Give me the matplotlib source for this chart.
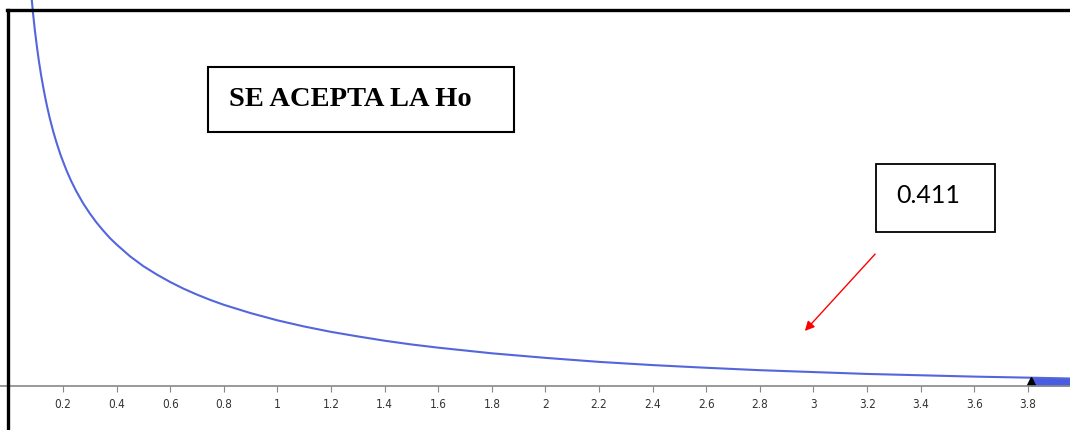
import matplotlib.pyplot as plt
from matplotlib.lines import Line2D
from matplotlib.patches import Rectangle

# Chi-square (1 df) density curve
curve_x = [0.080, 0.088, 0.095, 0.103, 0.110, 0.118, 0.125, 0.133, 0.140,
           0.150, 0.163, 0.175, 0.190, 0.200, 0.215, 0.230, 0.250, 0.275,
           0.300, 0.325, 0.350, 0.375, 0.400, 0.450, 0.500, 0.550, 0.600,
           0.650, 0.700, 0.750, 0.800, 0.900, 1.000, 1.100, 1.200, 1.300,
           1.400, 1.500, 1.600, 1.800, 2.000, 2.200, 2.400, 2.600, 2.800,
           3.000, 3.200, 3.400, 3.600, 3.810, 3.960]
curve_y = [1.479, 1.393, 1.328, 1.264, 1.213, 1.162, 1.122, 1.080, 1.046,
           1.002, 0.952, 0.911, 0.865, 0.838, 0.800, 0.766, 0.726, 0.682,
           0.644, 0.610, 0.580, 0.552, 0.528, 0.484, 0.447, 0.416, 0.388,
           0.363, 0.341, 0.321, 0.303, 0.272, 0.245, 0.222, 0.202, 0.185,
           0.169, 0.155, 0.143, 0.122, 0.105, 0.090, 0.078, 0.068, 0.059,
           0.052, 0.045, 0.040, 0.035, 0.031, 0.028]
critical = 3.81
tail_x = [3.81, 3.96]
tail_y = [0.032, 0.030]
tick_values = [0.2, 0.4, 0.6, 0.8, 1, 1.2, 1.4, 1.6, 1.8, 2, 2.2, 2.4, 2.6,
               2.8, 3, 3.2, 3.4, 3.6, 3.8]
tick_labels = ["0.2", "0.4", "0.6", "0.8", "1", "1.2", "1.4", "1.6", "1.8",
               "2", "2.2", "2.4", "2.6", "2.8", "3", "3.2", "3.4", "3.6", "3.8"]
decision = "SE ACEPTA LA Ho"
stat_value = "0.411"

W, H = 1070, 430
fig = plt.figure(figsize=(W / 100, H / 100), dpi=100)
ax = fig.add_axes([0, 0, 1, 1])
ax.set_xlim(-0.035, 3.957)
ax.set_ylim(-44 / 268, 386 / 268)


def fx(px):
    return px / W


def fy(py):
    return 1 - py / H


blue = "#5366dc"
ax.plot(curve_x, curve_y, color=blue, lw=1.5, solid_joinstyle="round")
ax.fill_between(tail_x, 0, tail_y, color="#4a5de2", lw=0)
ax.plot(critical, 0.017, marker="^", color="black", ms=6, clip_on=False)

for s in ["top", "right", "left"]:
    ax.spines[s].set_visible(False)
ax.spines["bottom"].set_position(("data", 0))
ax.spines["bottom"].set_color("#888888")
ax.spines["bottom"].set_linewidth(1.2)
ax.set_yticks([])
ax.set_xticks(tick_values)
ax.set_xticklabels(tick_labels)
ax.tick_params(axis="x", direction="out", length=4, width=0.8,
               color="#888888", labelsize=8.5, labelcolor="#333333", pad=5)
for lbl in ax.get_xticklabels():
    lbl.set_fontstretch("condensed")

# black frame (left and top edges)
fig.add_artist(Line2D([fx(8), fx(8)], [0, fy(10)], color="black", lw=2.4))
fig.add_artist(Line2D([fx(7), 1], [fy(10), fy(10)], color="black", lw=2.4))

# decision box
fig.add_artist(Rectangle((fx(208), fy(132)), fx(514) - fx(208), fy(67) - fy(132),
                         transform=fig.transFigure, fill=False, ec="black", lw=1.5))
fig.text(fx(229), fy(100), decision, family="Liberation Serif", weight="bold",
         fontsize=20.5, ha="left", va="center")

# statistic box
fig.add_artist(Rectangle((fx(876), fy(232)), fx(995) - fx(876), fy(164) - fy(232),
                         transform=fig.transFigure, fill=False, ec="black", lw=1.3))
fig.text(fx(896), fy(196), stat_value, family="Lato",
         fontsize=18, ha="left", va="center")

ax.annotate("", xy=(fx(803), fy(333)), xytext=(fx(877), fy(252)),
            xycoords="figure fraction", textcoords="figure fraction",
            arrowprops=dict(arrowstyle="-|>", color="red", lw=1,
                            mutation_scale=14))

fig.savefig("out.png", dpi=100)
